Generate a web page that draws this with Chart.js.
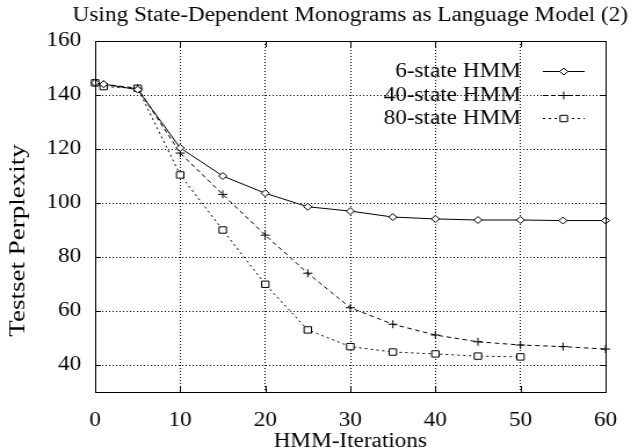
<!DOCTYPE html>
<html>
<head>
<meta charset="utf-8">
<script src="https://cdn.jsdelivr.net/npm/chart.js@4.4.1/dist/chart.umd.min.js"></script>
<style>
  html, body { margin: 0; padding: 0; background: #fff; overflow: hidden; }
  /* the original plot is a bit wider than tall, so stretch it sideways */
  #wrap { width: 550px; height: 448px; transform: scaleX(1.16); transform-origin: 0 0; }
</style>
</head>
<body>
<div id="wrap"><canvas id="lineChart" width="550" height="448"></canvas></div>
<script>
// values
const iterations6 = [0, 1, 5, 10, 15, 20, 25, 30, 35, 40, 45, 50, 55, 60];
const perplexity6 = [144.5, 144, 142, 120.4, 110, 103.6, 98.6, 97, 94.8, 94.1, 93.7, 93.7, 93.5, 93.5];

const iterations40 = [0, 1, 5, 10, 15, 20, 25, 30, 35, 40, 45, 50, 55, 60];
const perplexity40 = [144.5, 144, 142.5, 118.5, 103.2, 88.1, 74, 61.2, 55.1, 51.1, 48.6, 47.4, 46.8, 45.9];

const iterations80 = [0, 1, 5, 10, 15, 20, 25, 30, 35, 40, 45, 50];
const perplexity80 = [144.5, 143.1, 142.5, 110.4, 90, 69.9, 53, 46.8, 44.8, 44.1, 43.3, 43];

const seriesLabels = ['6-state HMM', '40-state HMM', '80-state HMM'];
const xTicks = [0, 10, 20, 30, 40, 50, 60];
const yTicks = [40, 60, 80, 100, 120, 140, 160];
const chartTitle = 'Using State-Dependent Monograms as Language Model (2)';
const yTitle = 'Testset Perplexity';

const serif = 'Liberation Serif';

function toPoints(xs, ys) {
    return xs.map((x, i) => ({ x: x, y: ys[i] }));
}

// title, legend, y label, full frame and gnuplot style inner ticks
const gnuplotDecor = {
    id: 'gnuplotDecor',
    afterDraw(chart) {
        const ctx = chart.ctx;
        const area = chart.chartArea;
        const xs = chart.scales.x;
        const ys = chart.scales.y;
        ctx.save();

        // frame
        ctx.setLineDash([]);
        ctx.strokeStyle = '#000';
        ctx.lineWidth = 1;
        ctx.strokeRect(Math.round(area.left) + 0.5, Math.round(area.top) + 0.5,
            Math.round(area.right - area.left), Math.round(area.bottom - area.top));

        // inner ticks
        ctx.beginPath();
        xTicks.forEach(v => {
            const px = Math.round(xs.getPixelForValue(v)) + 0.5;
            ctx.moveTo(px, area.bottom); ctx.lineTo(px, area.bottom - 6);
            ctx.moveTo(px, area.top); ctx.lineTo(px, area.top + 6);
        });
        yTicks.forEach(v => {
            const py = Math.round(ys.getPixelForValue(v)) + 0.5;
            ctx.moveTo(area.left, py); ctx.lineTo(area.left + 5, py);
            ctx.moveTo(area.right, py); ctx.lineTo(area.right - 5, py);
        });
        ctx.stroke();

        // title
        ctx.fillStyle = '#000';
        ctx.font = '20px "' + serif + '"';
        ctx.textAlign = 'center';
        ctx.textBaseline = 'middle';
        ctx.fillText(chartTitle, (area.left + area.right) / 2, 16);

        // y label, rotated; the original is long and thin
        ctx.save();
        ctx.translate(16, (area.top + area.bottom) / 2 + 24);
        ctx.rotate(-Math.PI / 2);
        ctx.scale(1, 0.72);
        ctx.font = '27px "' + serif + '"';
        ctx.fillText(yTitle, 0, 0);
        ctx.restore();

        // legend: text on the left, sample on the right
        ctx.textAlign = 'right';
        chart.data.datasets.forEach((ds, i) => {
            const y = 71 + i * 23.5;
            ctx.fillStyle = '#000';
            ctx.fillText(ds.label, 449, y + 1);
            ctx.beginPath();
            ctx.setLineDash(ds.borderDash || []);
            ctx.strokeStyle = '#000';
            ctx.lineWidth = 1;
            ctx.moveTo(468, Math.round(y) + 0.5);
            ctx.lineTo(504, Math.round(y) + 0.5);
            ctx.stroke();
            ctx.setLineDash([]);
            ctx.fillStyle = '#fff';
            Chart.helpers.drawPoint(ctx, {
                pointStyle: ds.pointStyle,
                radius: ds.pointRadius,
                borderWidth: 1
            }, 486, Math.round(y) + 0.5);
        });
        ctx.restore();
    }
};

const ctx = document.getElementById('lineChart').getContext('2d');
const chart = new Chart(ctx, {
    type: 'line',
    data: {
        datasets: [{
            label: seriesLabels[0],
            data: toPoints(iterations6, perplexity6),
            borderColor: '#000',
            borderWidth: 1,
            pointStyle: 'rectRot',
            pointRadius: 3.5,
            pointBorderColor: '#000',
            pointBackgroundColor: '#fff',
            pointBorderWidth: 1,
            clip: 10
        }, {
            label: seriesLabels[1],
            data: toPoints(iterations40, perplexity40),
            borderColor: '#000',
            borderWidth: 1,
            borderDash: [4, 3],
            pointStyle: 'cross',
            pointRadius: 4,
            pointBorderColor: '#000',
            pointBorderWidth: 1,
            clip: 10
        }, {
            label: seriesLabels[2],
            data: toPoints(iterations80, perplexity80),
            borderColor: '#000',
            borderWidth: 1,
            borderDash: [2, 3],
            pointStyle: 'rect',
            pointRadius: 4.5,
            pointBorderColor: '#000',
            pointBackgroundColor: '#fff',
            pointBorderWidth: 1,
            clip: 10
        }]
    },
    options: {
        responsive: false,
        animation: false,
        devicePixelRatio: 1,
        layout: { padding: { top: 41, right: 28, left: 0, bottom: 0 } },
        plugins: {
            legend: { display: false },
            title: { display: false },
            tooltip: { enabled: false }
        },
        scales: {
            x: {
                type: 'linear',
                min: 0,
                max: 60,
                afterBuildTicks: scale => { scale.ticks = xTicks.map(v => ({ value: v })); },
                afterFit: scale => { scale.height = 56; },
                grid: {
                    color: '#000',
                    lineWidth: 1,
                    drawTicks: false
                },
                border: { display: false, dash: [1, 2] },
                ticks: {
                    color: '#000',
                    padding: 17,
                    maxRotation: 0,
                    font: { family: serif, size: 20 }
                },
                title: {
                    display: true,
                    text: 'HMM-Iterations',
                    color: '#000',
                    padding: { top: 0, bottom: -6 },
                    font: { family: serif, size: 20 }
                }
            },
            y: {
                min: 30,
                max: 160,
                afterBuildTicks: scale => { scale.ticks = yTicks.map(v => ({ value: v })); },
                afterFit: scale => { scale.width = 82; },
                grid: {
                    color: '#000',
                    lineWidth: 1,
                    drawTicks: false
                },
                border: { display: false, dash: [1, 2] },
                ticks: {
                    color: '#000',
                    padding: 12,
                    font: { family: serif, size: 20 }
                }
            }
        }
    },
    plugins: [gnuplotDecor]
});
</script>
</body>
</html>
